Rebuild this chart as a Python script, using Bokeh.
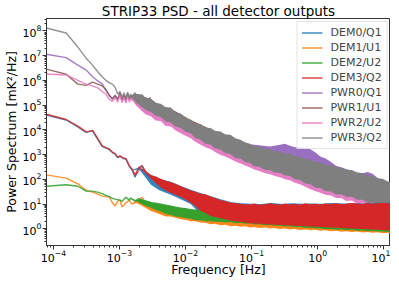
import numpy as np
from bokeh.plotting import figure
from bokeh.models import Range1d, FixedTicker, LogTickFormatter, Legend, LegendItem
from bokeh.embed import file_html
from bokeh.resources import INLINE

names = ["DEM0/Q1", "DEM1/U1", "DEM2/U2", "DEM3/Q2", "PWR0/Q1", "PWR1/U1", "PWR2/U2", "PWR3/Q2"]
colors = ["#1f77b4", "#ff7f0e", "#2ca02c", "#d62728", "#9467bd", "#8c564b", "#e377c2", "#7f7f7f"]

# ---------- low-frequency part (single visible lines), log10(PSD) ----------
f_low = [7.8e-5, 1.56e-4, 2.34e-4, 3.13e-4, 3.91e-4, 4.69e-4, 5.47e-4, 6.25e-4, 7.03e-4,
         7.81e-4, 8.59e-4, 9.38e-4, 1.02e-3, 1.09e-3, 1.17e-3, 1.25e-3, 1.33e-3, 1.41e-3,
         1.48e-3, 1.56e-3, 1.72e-3, 1.95e-3, 2.2e-3, 2.5e-3, 3.0e-3]

dem0_low = [4.60, 4.40, 4.12, 3.90, 3.96, 3.62, 3.33, 3.26, 3.20, 3.08, 3.02, 2.88, 2.93,
            2.88, 2.83, 2.82, 2.66, 2.52, 2.45, 2.38, 2.08, 2.44, 2.52, 2.26, 2.05]
dem1_low = [2.18, 2.05, 1.82, 1.55, 1.48, 1.40, 1.32, 1.30, 1.28, 1.05, 0.92, 1.12, 1.16,
            0.89, 0.95, 1.05, 1.10, 1.16, 1.05, 1.00, 1.08, 1.15, 1.27, 1.05, 0.97]
dem2_low = [1.72, 1.78, 1.72, 1.52, 1.52, 1.48, 1.42, 1.35, 1.30, 1.23, 1.20, 1.18, 1.16,
            1.10, 1.20, 1.27, 1.22, 1.15, 1.25, 1.20, 1.12, 1.22, 1.16, 1.10, 1.05]
dem3_low = [4.63, 4.42, 4.15, 3.92, 3.98, 3.65, 3.35, 3.28, 3.23, 3.10, 3.04, 2.90, 2.95,
            2.90, 2.85, 2.84, 2.70, 2.55, 2.48, 2.41, 2.16, 2.47, 2.55, 2.30, 2.10]
pwr0_low = [7.06, 6.92, 6.62, 6.42, 6.15, 5.98, 5.86, 5.60, 5.38, 5.25, 5.40, 5.25, 5.50,
            5.22, 5.42, 5.20, 5.48, 5.25, 5.40, 5.30, 5.45, 5.22, 5.38, 5.18, 5.25]
pwr1_low = [6.46, 6.25, 5.85, 5.80, 5.93, 5.85, 5.78, 5.62, 5.40, 5.25, 5.38, 5.22, 5.48,
            5.20, 5.40, 5.18, 5.45, 5.22, 5.38, 5.28, 5.42, 5.20, 5.35, 5.15, 5.22]
pwr2_low = [6.26, 6.22, 6.00, 5.85, 5.78, 5.70, 5.55, 5.45, 5.22, 5.15, 5.30, 5.12, 5.40,
            5.10, 5.32, 5.08, 5.38, 5.12, 5.30, 5.18, 5.32, 5.10, 5.25, 5.05, 5.12]
pwr3_low = [8.12, 7.92, 7.35, 6.90, 6.62, 6.35, 6.15, 6.00, 5.90, 5.85, 5.72, 5.45, 5.55,
            5.30, 5.50, 5.28, 5.52, 5.30, 5.45, 5.35, 5.50, 5.28, 5.42, 5.22, 5.30]

# ---------- noisy part: envelopes (upper / lower), log10(PSD) ----------
f_fine = [1.5e-3, 1.8e-3, 2.1e-3, 2.5e-3, 3e-3, 3.5e-3, 4.2e-3, 5e-3, 6e-3, 7e-3, 8.5e-3,
          0.01, 0.012, 0.014, 0.017, 0.02, 0.024, 0.028, 0.034, 0.04, 0.048, 0.057, 0.068,
          0.08, 0.095, 0.11, 0.13, 0.16, 0.19, 0.22, 0.27, 0.32, 0.38, 0.45, 0.54, 0.65,
          0.78, 0.93, 1.1, 1.3, 1.6, 1.9, 2.3, 2.7, 3.3, 4.0, 4.8, 5.7, 6.8, 8.1, 9.7, 11.5, 12.7]

pwr3_hi = [5.40, 5.45, 5.44, 5.28, 5.26, 5.10, 5.06, 4.91, 4.90, 4.69, 4.66, 4.47, 4.42,
           4.26, 4.24, 4.09, 4.08, 3.95, 3.93, 3.81, 3.80, 3.64, 3.60, 3.47, 3.44, 3.33, 3.34,
           3.23, 3.24, 3.14, 3.12, 3.03, 3.04, 2.93, 2.92, 2.81, 2.80, 2.69, 2.70, 2.59, 2.58,
           2.49, 2.48, 2.39, 2.38, 2.27, 2.26, 2.15, 2.14, 2.03, 2.02, 1.91, 1.88]
pwr3_lo = [5.34, 5.10, 4.96, 4.80, 4.72, 4.58, 4.52, 4.34, 4.30, 4.14, 4.08, 3.92, 3.86,
           3.68, 3.60, 3.44, 3.40, 3.26, 3.20, 3.06, 3.02, 2.86, 2.84, 2.70, 2.66, 2.52, 2.52,
           2.38, 2.38, 2.28, 2.27, 2.15, 2.14, 2.00, 1.97, 1.83, 1.80, 1.66, 1.65, 1.53, 1.51,
           1.39, 1.40, 1.29, 1.29, 1.17, 1.17, 1.05, 1.06, 0.95, 0.96, 0.86, 0.86]
pwr2_hi = [5.30, 5.30, 5.28, 5.12, 5.08, 4.95, 4.88, 4.76, 4.72, 4.54, 4.50, 4.32, 4.26,
           4.10, 4.08, 3.94, 3.92, 3.80, 3.78, 3.66, 3.64, 3.49, 3.45, 3.32, 3.29, 3.18, 3.18,
           3.08, 3.08, 2.99, 2.96, 2.88, 2.88, 2.78, 2.76, 2.66, 2.64, 2.54, 2.54, 2.44, 2.42,
           2.34, 2.32, 2.24, 2.22, 2.12, 2.10, 2.00, 1.98, 1.88, 1.86, 1.76, 1.73]
pwr2_lo = [5.26, 4.98, 4.80, 4.62, 4.55, 4.38, 4.36, 4.16, 4.14, 3.98, 3.86, 3.76, 3.66,
           3.52, 3.40, 3.30, 3.22, 3.10, 2.98, 2.92, 2.82, 2.72, 2.64, 2.56, 2.48, 2.40, 2.34,
           2.24, 2.20, 2.14, 2.08, 2.00, 1.96, 1.86, 1.80, 1.70, 1.60, 1.52, 1.46, 1.38, 1.34,
           1.24, 1.24, 1.12, 1.14, 1.00, 1.02, 0.90, 0.92, 0.80, 0.80, 0.72, 0.70]
pwr0_hi = [5.36, 5.40, 5.38, 5.22, 5.20, 5.04, 5.00, 4.86, 4.84, 4.64, 4.60, 4.42, 4.36,
           4.22, 4.20, 4.05, 4.03, 3.90, 3.88, 3.77, 3.76, 3.66, 3.58, 3.50, 3.42, 3.40, 3.38,
           3.35, 3.33, 3.36, 3.40, 3.44, 3.36, 3.30, 3.32, 3.28, 3.22, 3.08, 2.92, 2.85, 2.70,
           2.55, 2.48, 2.42, 2.35, 2.28, 2.25, 2.30, 2.22, 2.05, 1.99, 1.90, 1.87]
pwr0_lo = [5.32, 5.14, 5.04, 4.90, 4.82, 4.68, 4.62, 4.44, 4.40, 4.24, 4.18, 4.02, 3.96,
           3.78, 3.70, 3.54, 3.50, 3.36, 3.30, 3.16, 3.12, 2.96, 2.94, 2.80, 2.76, 2.62, 2.62,
           2.48, 2.48, 2.38, 2.37, 2.25, 2.24, 2.10, 2.07, 1.93, 1.90, 1.76, 1.75, 1.63, 1.61,
           1.49, 1.50, 1.39, 1.39, 1.27, 1.27, 1.15, 1.16, 1.05, 1.06, 0.96, 0.96]

dem3_hi = [2.42, 2.19, 2.46, 2.34, 2.16, 2.12, 2.02, 1.94, 1.88, 1.82, 1.72, 1.64, 1.55,
           1.50, 1.42, 1.40, 1.30, 1.24, 1.15, 1.12, 1.05, 1.04, 1.00, 0.99, 0.98, 1.02, 0.97,
           0.99, 1.03, 1.00, 0.97, 1.02, 0.98, 1.01, 0.97, 1.03, 0.99, 1.01, 0.98, 1.02, 1.00,
           1.03, 0.99, 1.01, 1.04, 1.02, 1.00, 1.04, 1.01, 1.03, 1.05, 1.02, 1.03]
dem3_lo = [2.40, 2.16, 2.42, 2.24, 2.02, 1.86, 1.68, 1.56, 1.45, 1.38, 1.28, 1.18, 1.05,
           0.92, 0.72, 0.64, 0.52, 0.48, 0.42, 0.38, 0.33, 0.30, 0.28, 0.25, 0.22, 0.21, 0.20,
           0.18, 0.17, 0.16, 0.15, 0.14, 0.13, 0.12, 0.11, 0.10, 0.09, 0.08, 0.07, 0.06, 0.05,
           0.04, 0.03, 0.02, 0.01, 0.00, -0.01, -0.02, -0.03, -0.04, -0.05, -0.07, -0.08]
dem2_hi = [1.21, 1.16, 1.20, 1.15, 1.08, 1.06, 1.02, 0.98, 0.94, 0.90, 0.86, 0.84, 0.80,
           0.78, 0.76, 0.78, 0.80, 0.82, 0.84, 0.85, 0.87, 0.88, 0.89, 0.90, 0.90, 0.91, 0.91,
           0.92, 0.92, 0.93, 0.93, 0.93, 0.94, 0.94, 0.94, 0.95, 0.95, 0.95, 0.96, 0.96, 0.96,
           0.96, 0.97, 0.97, 0.97, 0.97, 0.98, 0.98, 0.98, 0.98, 0.99, 0.99, 0.99]
dem2_lo = [1.19, 1.12, 1.02, 0.92, 0.85, 0.76, 0.70, 0.60, 0.56, 0.50, 0.48, 0.42, 0.40,
           0.34, 0.34, 0.30, 0.30, 0.28, 0.28, 0.25, 0.27, 0.22, 0.24, 0.20, 0.21, 0.17, 0.18,
           0.14, 0.15, 0.12, 0.12, 0.09, 0.10, 0.06, 0.07, 0.03, 0.04, 0.01, 0.01, -0.02, -0.01,
           -0.04, -0.03, -0.06, -0.05, -0.08, -0.07, -0.10, -0.09, -0.11, -0.11, -0.13, -0.12]
dem1_hi = [1.01, 1.10, 1.16, 1.10, 1.00, 1.01, 0.97, 0.93, 0.89, 0.85, 0.81, 0.79, 0.76,
           0.74, 0.72, 0.74, 0.76, 0.78, 0.80, 0.81, 0.83, 0.84, 0.85, 0.86, 0.86, 0.87, 0.87,
           0.88, 0.88, 0.89, 0.89, 0.89, 0.90, 0.90, 0.90, 0.91, 0.91, 0.91, 0.92, 0.92, 0.92,
           0.92, 0.93, 0.93, 0.93, 0.93, 0.94, 0.94, 0.94, 0.94, 0.95, 0.95, 0.95]
dem1_lo = [0.99, 1.04, 0.96, 0.84, 0.72, 0.66, 0.58, 0.50, 0.50, 0.44, 0.38, 0.36, 0.30,
           0.30, 0.25, 0.24, 0.18, 0.20, 0.14, 0.16, 0.10, 0.12, 0.08, 0.10, 0.05, 0.07, 0.03,
           0.05, 0.01, 0.03, -0.01, 0.01, -0.03, -0.01, -0.05, -0.03, -0.06, -0.04, -0.08, -0.06,
           -0.10, -0.08, -0.12, -0.10, -0.13, -0.11, -0.15, -0.13, -0.16, -0.14, -0.18, -0.16, -0.17]

# coarse grid for the (mostly hidden) spectra
f_band = [1.5e-3, 2e-3, 3e-3, 4e-3, 6e-3, 8e-3, 0.012, 0.016, 0.025, 0.035, 0.05, 0.07, 0.1,
          0.14, 0.2, 0.3, 0.4, 0.6, 0.8, 1.2, 1.6, 2.5, 3.5, 5, 6, 7, 8, 10, 12.7]
dem0_hi = [2.38, 2.48, 2.18, 2.02, 1.90, 1.76, 1.58, 1.47, 1.30, 1.18, 1.07, 1.03, 1.01,
           1.00, 1.04, 1.00, 1.03, 1.01, 1.02, 1.01, 1.04, 1.02, 1.03, 1.02, 1.05, 1.03, 1.05, 1.04, 1.05]
dem0_lo = [2.36, 2.40, 1.78, 1.56, 1.38, 1.22, 1.00, 0.66, 0.46, 0.36, 0.29, 0.24, 0.19,
           0.16, 0.13, 0.11, 0.09, 0.08, 0.06, 0.05, 0.03, 0.02, 0.00, -0.01, -0.03, -0.04, -0.05, -0.07, -0.09]
pwr1_hi = [5.34, 5.40, 5.25, 5.00, 4.85, 4.67, 4.40, 4.25, 4.00, 3.87, 3.70, 3.47, 3.33,
           3.23, 3.13, 3.03, 2.93, 2.83, 2.70, 2.59, 2.51, 2.37, 2.29, 2.17, 2.11, 2.03, 1.98, 1.92, 1.83]
pwr1_lo = [5.30, 5.05, 4.77, 4.57, 4.35, 4.20, 3.93, 3.67, 3.43, 3.23, 3.03, 2.83, 2.67,
           2.53, 2.41, 2.27, 2.15, 1.97, 1.83, 1.69, 1.57, 1.43, 1.32, 1.20, 1.13, 1.08, 1.03, 0.97, 0.91]

series = [
    (f_band, dem0_lo, dem0_hi), (f_fine, dem1_lo, dem1_hi), (f_fine, dem2_lo, dem2_hi),
    (f_fine, dem3_lo, dem3_hi), (f_fine, pwr0_lo, pwr0_hi), (f_band, pwr1_lo, pwr1_hi),
    (f_fine, pwr2_lo, pwr2_hi), (f_fine, pwr3_lo, pwr3_hi)]
low = [dem0_low, dem1_low, dem2_low, dem3_low, pwr0_low, pwr1_low, pwr2_low, pwr3_low]

FONT = "DejaVu Sans"

p = figure(width=390, height=279, x_axis_type="log", y_axis_type="log",
           x_range=Range1d(7.85e-5, 12.7), y_range=Range1d(0.21, 3.2e8),
           output_backend="svg", toolbar_location=None,
           min_border_left=30, min_border_right=0, min_border_top=0, min_border_bottom=0)

p.title.text = "STRIP33 PSD - all detector outputs"
p.title.align = "center"
p.title.text_font = FONT
p.title.text_font_size = "13.5px"
p.title.text_font_style = "normal"
p.title.text_color = "black"
p.title.text_line_height = 1.0
p.title.standoff = 0

p.xgrid.visible = False
p.ygrid.visible = False
p.outline_line_color = "#333333"
p.outline_line_width = 1

lines = {}
order = [4, 5, 6, 7, 0, 1, 2, 3]
alphas = [0.9, 0.95, 0.95, 1.0, 0.95, 0.95, 0.95, 1.0]
fl = np.array(f_low)
for i in order:
    c = colors[i]
    fx, lo, hi = series[i]
    p.varea(x=np.array(fx), y1=10 ** np.array(lo), y2=10 ** np.array(hi),
            fill_color=c, fill_alpha=alphas[i])
    lines[i] = p.line(fl, 10 ** np.array(low[i]), line_color=c, line_width=1.4, line_alpha=0.85)

legend = Legend(items=[LegendItem(label=names[i], renderers=[lines[i]]) for i in range(8)],
                location="top_right")
legend.label_text_font = FONT
legend.label_text_font_size = "11px"
legend.label_text_line_height = 1.0
legend.label_height = 11
legend.glyph_height = 11
legend.glyph_width = 21
legend.label_standoff = 8
legend.spacing = 2
legend.padding = 4
legend.margin = 3
legend.border_line_color = "#cccccc"
legend.background_fill_alpha = 0.85
p.add_layout(legend)

xmaj = [10.0 ** e for e in range(-4, 2)]
xmin = [k * 10.0 ** e for e in range(-5, 2) for k in range(2, 10)]
ymaj = [10.0 ** e for e in range(0, 9)]
ymin = [k * 10.0 ** e for e in range(-1, 9) for k in range(2, 10)]

for ax, maj, mnr in ((p.xaxis[0], xmaj, xmin), (p.yaxis[0], ymaj, ymin)):
    ax.ticker = FixedTicker(ticks=maj, minor_ticks=mnr)
    ax.formatter = LogTickFormatter()
    ax.major_label_text_font = FONT
    ax.major_label_text_font_size = "11px"
    ax.major_label_text_color = "black"
    ax.major_label_text_line_height = 1.0
    ax.axis_label_text_font = FONT
    ax.axis_label_text_font_size = "12.5px"
    ax.axis_label_text_font_style = "normal"
    ax.axis_label_text_color = "black"
    ax.axis_label_text_line_height = 1.0
    ax.axis_line_color = "#333333"
    ax.major_tick_line_color = "#333333"
    ax.minor_tick_line_color = "#333333"
    ax.major_tick_out = 4
    ax.major_tick_in = 0
    ax.minor_tick_out = 2
    ax.minor_tick_in = 0
    ax.major_label_standoff = 1

p.yaxis.axis_label_standoff = 1
p.xaxis.major_label_standoff = 0
p.xaxis.axis_label_standoff = -3
p.xaxis.axis_label = "Frequency [Hz]"
p.yaxis.axis_label = "Power Spectrum [mK\u00b2/Hz]"

open("out.html", "w").write(file_html(p, INLINE))
